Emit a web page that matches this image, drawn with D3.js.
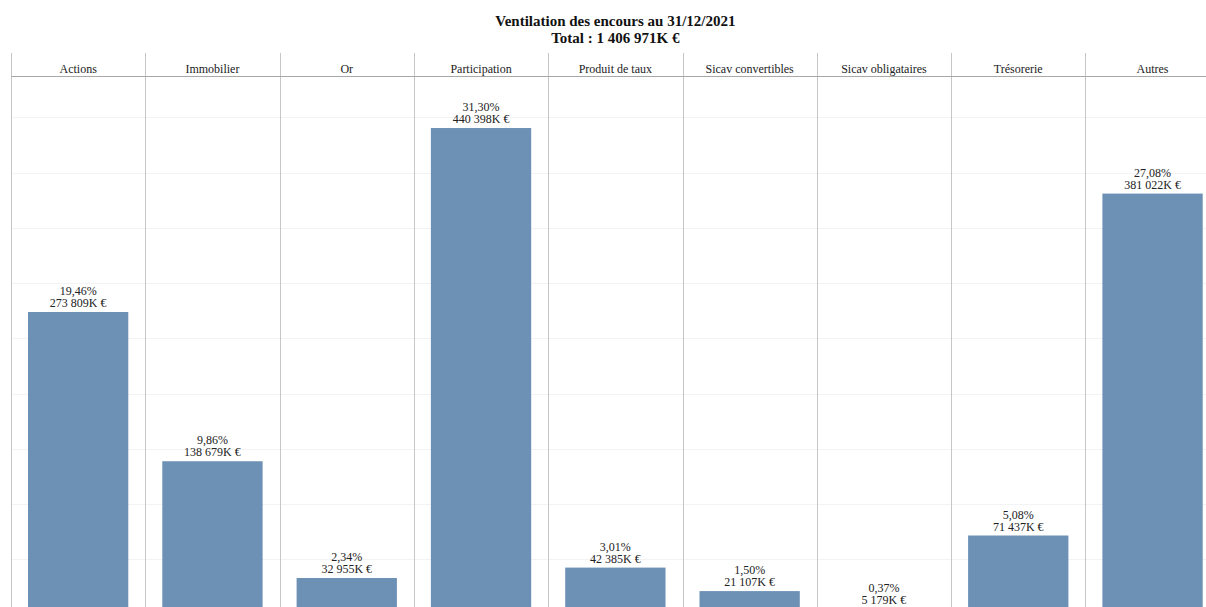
<!DOCTYPE html>
<html>
<head>
<meta charset="utf-8">
<script src="https://cdn.jsdelivr.net/npm/d3@7"></script>
<style>
  body { margin: 0; background: #fff; }
  text { font-family: "Liberation Serif", "Times New Roman", serif; fill: #222; }
</style>
</head>
<body>
<svg id="chart" width="1206" height="607"></svg>
<script>
var categories = ["Actions", "Immobilier", "Or", "Participation", "Produit de taux",
    "Sicav convertibles", "Sicav obligataires", "Trésorerie", "Autres"];
var values = [273809, 138679, 32955, 440398, 42385, 21107, 5179, 71437, 381022];
var percents = ["19,46%", "9,86%", "2,34%", "31,30%", "3,01%", "1,50%", "0,37%", "5,08%", "27,08%"];
var valueLabels = ["273 809K €", "138 679K €", "32 955K €", "440 398K €", "42 385K €",
    "21 107K €", "5 179K €", "71 437K €", "381 022K €"];
var gridTicks = [50000, 100000, 150000, 200000, 250000, 300000, 350000, 400000, 450000];
var titleLines = ["Ventilation des encours au 31/12/2021", "Total : 1 406 971K €"];

var svg = d3.select("#chart"),
    margin = { top: 53, left: 11, header: 23 },
    colW = 134.3,
    plotRight = margin.left + colW * categories.length,
    plotTop = margin.top + margin.header,
    baseline = 614.4;

var x = d3.scaleBand().domain(categories).range([margin.left, plotRight]).padding(0);
var y = d3.scaleLinear().domain([0, 487500]).range([baseline, plotTop]);
var inset = 17;

// faint gridlines
svg.append("g").selectAll("line")
    .data(gridTicks)
    .enter().append("line")
    .attr("x1", margin.left).attr("x2", plotRight)
    .attr("y1", function (d) { return Math.round(y(d)) + 0.5; })
    .attr("y2", function (d) { return Math.round(y(d)) + 0.5; })
    .attr("stroke", "#f3f3f3");

// bars
svg.append("g").selectAll("rect")
    .data(values)
    .enter().append("rect")
    .attr("x", function (d, i) { return x(categories[i]) + inset; })
    .attr("width", x.bandwidth() - 2 * inset)
    .attr("y", function (d) { return y(d); })
    .attr("height", function (d) { return baseline - y(d); })
    .attr("fill", "#6d91b5");

// column separators
svg.append("g").selectAll("line")
    .data(categories)
    .enter().append("line")
    .attr("x1", function (d) { return Math.round(x(d)) + 0.5; })
    .attr("x2", function (d) { return Math.round(x(d)) + 0.5; })
    .attr("y1", margin.top).attr("y2", 607)
    .attr("stroke", "#c6c6c6");

// header line
svg.append("line")
    .attr("x1", margin.left).attr("x2", plotRight)
    .attr("y1", plotTop + 0.5).attr("y2", plotTop + 0.5)
    .attr("stroke", "#a8a8a8");

// header labels
svg.append("g").selectAll("text")
    .data(categories)
    .enter().append("text")
    .attr("x", function (d) { return x(d) + x.bandwidth() / 2; })
    .attr("y", 73)
    .attr("text-anchor", "middle")
    .attr("font-size", 12)
    .text(function (d) { return d; });

// value labels
var labels = svg.append("g").selectAll("g")
    .data(values)
    .enter().append("g")
    .attr("transform", function (d, i) {
        return "translate(" + (x(categories[i]) + x.bandwidth() / 2) + "," + y(d) + ")";
    });
labels.append("text")
    .attr("y", -17).attr("text-anchor", "middle").attr("font-size", 12)
    .text(function (d, i) { return percents[i]; });
labels.append("text")
    .attr("y", -5).attr("text-anchor", "middle").attr("font-size", 12)
    .text(function (d, i) { return valueLabels[i]; });

// title
svg.append("g").selectAll("text")
    .data(titleLines)
    .enter().append("text")
    .attr("x", (margin.left + plotRight) / 2)
    .attr("y", function (d, i) { return 26 + i * 17; })
    .attr("text-anchor", "middle")
    .attr("font-size", 15)
    .attr("font-weight", "bold")
    .style("fill", "#111")
    .text(function (d) { return d; });
</script>
</body>
</html>
